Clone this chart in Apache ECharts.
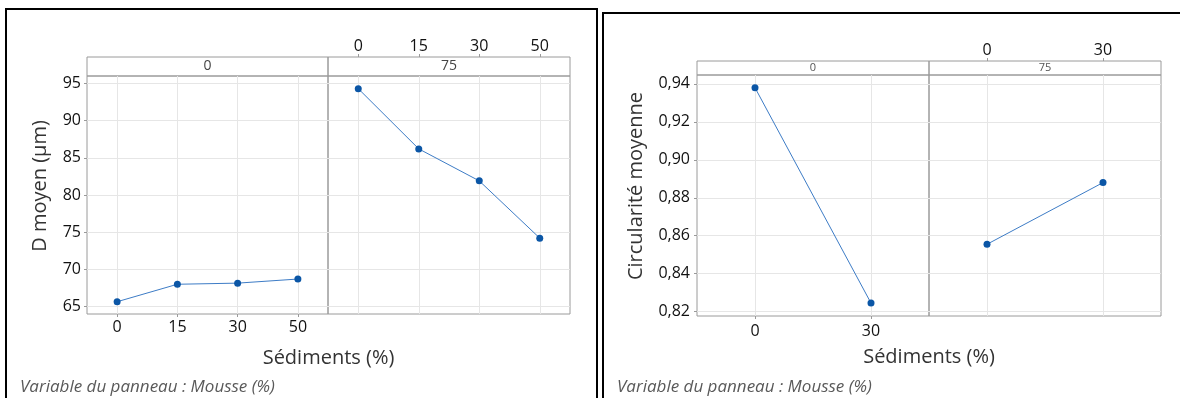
<!DOCTYPE html>
<html><head><meta charset="utf-8">
<script src="https://cdn.jsdelivr.net/npm/echarts@6/dist/echarts.min.js"></script>
<style>html,body{margin:0;padding:0;background:#fff}#c{width:1180px;height:398px}</style>
</head><body><div id="c"></div>
<script>
// ---- data ----
const sedLabelsL = ['0', '15', '30', '50'];
const sedLabelsR = ['0', '30'];
const panelLabels = ['0', '75'];
const dMoyen_m0 = [65.65, 68.0, 68.15, 68.7];
const dMoyen_m75 = [94.3, 86.2, 81.9, 74.2];
const circ_m0 = [0.938, 0.8245];
const circ_m75 = [0.8555, 0.888];
const yTicksL = [65, 70, 75, 80, 85, 90, 95];
const yTicksR = [0.82, 0.84, 0.86, 0.88, 0.90, 0.92, 0.94];
const yTitleL = 'D moyen (µm)';
const yTitleR = 'Circularité moyenne';
const xTitle = 'Sédiments (%)';
const footer = 'Variable du panneau : Mousse (%)';

const FONT = '"Open Sans", "Noto Sans", sans-serif';
const chart = echarts.init(document.getElementById('c'), null, {renderer: 'canvas'});

// layout
const L = {l: 87, m: 328, r: 570, top: 76, bottom: 314, sTop: 57};
const R = {l: 697, m: 929, r: 1161, top: 75, bottom: 316, sTop: 61};

function mkGrid(x0, x1, y0, y1) {
  return {left: x0, top: y0, width: x1 - x0, height: y1 - y0, show: true,
    borderColor: '#9a9a9a', borderWidth: 1, backgroundColor: 'transparent', containLabel: false};
}
const grids = [
  mkGrid(L.l, L.m, L.top, L.bottom), mkGrid(L.m, L.r, L.top, L.bottom),
  mkGrid(L.l, L.m, L.sTop, L.top), mkGrid(L.m, L.r, L.sTop, L.top),
  mkGrid(R.l, R.m, R.top, R.bottom), mkGrid(R.m, R.r, R.top, R.bottom),
  mkGrid(R.l, R.m, R.sTop, R.top), mkGrid(R.m, R.r, R.sTop, R.top)
];

function xAx(gi, labels, opts) {
  const n = labels.length;
  const vals = labels.map((_, i) => i);
  return {
    type: 'value', gridIndex: gi, min: -0.5, max: n - 0.5,
    axisLine: {show: false, onZero: false},
    axisTick: {show: opts.ticks, customValues: vals, length: 3, inside: false, lineStyle: {color: '#9a9a9a'}},
    axisLabel: {show: opts.labels, customValues: vals, formatter: v => labels[Math.round(v)],
      color: '#111', fontSize: 16, fontFamily: FONT, margin: opts.margin || 6},
    splitLine: {show: opts.split, lineStyle: {color: '#e6e6e6', width: 1}},
    position: opts.pos || 'bottom'
  };
}
function yAx(gi, min, max, ticks, opts) {
  return {
    type: 'value', gridIndex: gi, min: min, max: max,
    axisLine: {show: false, onZero: false},
    axisTick: {show: opts.labels, customValues: ticks, length: 3, lineStyle: {color: '#9a9a9a'}},
    axisLabel: {show: opts.labels, customValues: ticks, color: '#111', fontSize: 16, fontFamily: FONT,
      margin: opts.margin || 6, formatter: opts.fmt},
    splitLine: {show: opts.split, lineStyle: {color: '#e6e6e6', width: 1}}
  };
}
const fmtR = v => v.toFixed(2).replace('.', ',');
const fmtL = v => String(v);

const xAxes = [
  xAx(0, sedLabelsL, {ticks: true, labels: true, split: true, margin: 5}),
  xAx(1, sedLabelsL, {ticks: false, labels: false, split: true}),
  xAx(2, sedLabelsL, {ticks: false, labels: false, split: false}),
  xAx(3, sedLabelsL, {ticks: true, labels: true, split: false, pos: 'top', margin: 3}),
  xAx(4, sedLabelsR, {ticks: true, labels: true, split: true, margin: 7}),
  xAx(5, sedLabelsR, {ticks: false, labels: false, split: true}),
  xAx(6, sedLabelsR, {ticks: false, labels: false, split: false}),
  xAx(7, sedLabelsR, {ticks: true, labels: true, split: false, pos: 'top', margin: 3})
];
const yAxes = [
  yAx(0, 64, 96, yTicksL, {labels: true, split: true, fmt: fmtL, margin: 6}),
  yAx(1, 64, 96, yTicksL, {labels: false, split: true, fmt: fmtL}),
  yAx(2, 0, 1, [], {labels: false, split: false}),
  yAx(3, 0, 1, [], {labels: false, split: false}),
  yAx(4, 0.8177, 0.9447, yTicksR, {labels: true, split: true, fmt: fmtR, margin: 7}),
  yAx(5, 0.8177, 0.9447, yTicksR, {labels: false, split: true, fmt: fmtR}),
  yAx(6, 0, 1, [], {labels: false, split: false}),
  yAx(7, 0, 1, [], {labels: false, split: false})
];

function line(gi, arr) {
  return {
    type: 'line', xAxisIndex: gi, yAxisIndex: gi, data: arr.map((v, i) => [i, v]),
    symbol: 'circle', symbolSize: 7, showSymbol: true,
    lineStyle: {color: '#3d7cc6', width: 1}, itemStyle: {color: '#0b56a6'},
    z: 5, silent: true, clip: false
  };
}

function txt(x, y, s, size, color, extra) {
  return {type: 'text', x: x, y: y, silent: true,
    style: Object.assign({text: s, fontSize: size, fontFamily: FONT, fill: color,
      textAlign: 'center', textVerticalAlign: 'middle'}, extra || {})};
}

const graphic = [
  {type: 'rect', shape: {x: 6, y: 9, width: 591, height: 420}, style: {fill: 'none', stroke: '#000', lineWidth: 2}, silent: true},
  {type: 'rect', shape: {x: 603, y: 13, width: 620, height: 420}, style: {fill: 'none', stroke: '#000', lineWidth: 2}, silent: true},
  txt((L.l + L.m) / 2, (L.sTop + L.top) / 2, panelLabels[0], 14, '#444'),
  txt((L.m + L.r) / 2, (L.sTop + L.top) / 2, panelLabels[1], 14, '#444'),
  txt((R.l + R.m) / 2, (R.sTop + R.top) / 2, panelLabels[0], 11, '#555'),
  txt((R.m + R.r) / 2, (R.sTop + R.top) / 2, panelLabels[1], 11, '#555'),
  txt((L.l + L.r) / 2, 358, xTitle, 20, '#333'),
  txt((R.l + R.r) / 2, 357, xTitle, 20, '#333'),
  Object.assign(txt(40, 186, yTitleL, 20, '#333'), {rotation: Math.PI / 2}),
  Object.assign(txt(636, 186, yTitleR, 20, '#333'), {rotation: Math.PI / 2}),
  txt(20, 387, footer, 17, '#595959', {textAlign: 'left', fontStyle: 'italic'}),
  txt(617, 387, footer, 17, '#595959', {textAlign: 'left', fontStyle: 'italic'})
];

chart.setOption({
  animation: false,
  backgroundColor: '#fff',
  grid: grids,
  xAxis: xAxes,
  yAxis: yAxes,
  series: [line(0, dMoyen_m0), line(1, dMoyen_m75), line(4, circ_m0), line(5, circ_m75)],
  graphic: graphic
});
</script></body></html>
